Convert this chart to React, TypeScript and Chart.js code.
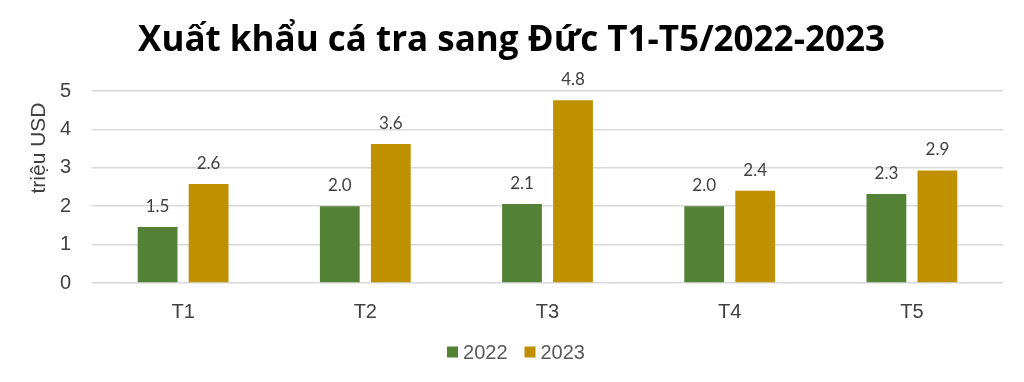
import React, { useEffect, useRef } from "react";
import { Chart, registerables } from "chart.js";

Chart.register(...registerables);

const categories = ["T1", "T2", "T3", "T4", "T5"];
const values2022 = [1.46, 2.0, 2.06, 2.0, 2.32];
const values2023 = [2.58, 3.62, 4.76, 2.4, 2.93];
const seriesNames = ["2022", "2023"];
const yTicks = [0, 1, 2, 3, 4, 5];
const chartTitle = "Xuất khẩu cá tra sang Đức T1-T5/2022-2023";
const yAxisTitle = "triệu USD";

const GREEN = "#538135";
const GOLD = "#BF9000";

const labelPlugin = {
  id: "valueLabels",
  afterDatasetsDraw(chart: any) {
    const ctx = chart.ctx;
    ctx.save();
    ctx.font = "17px Lato";
    ctx.fillStyle = "#404040";
    ctx.textAlign = "center";
    ctx.textBaseline = "alphabetic";
    chart.data.datasets.forEach((ds: any, i: number) => {
      const meta = chart.getDatasetMeta(i);
      meta.data.forEach((bar: any, j: number) => {
        const v = ds.data[j] as number;
        ctx.fillText(v.toFixed(1), bar.x, bar.y - 15);
      });
    });
    ctx.restore();
  },
  afterDraw(chart: any) {
    const ctx = chart.ctx;
    ctx.save();
    // y-axis title
    ctx.translate(39, 148);
    ctx.rotate(-Math.PI / 2);
    ctx.font = "21px 'Liberation Sans'";
    ctx.fillStyle = "#404040";
    ctx.textAlign = "center";
    ctx.textBaseline = "middle";
    ctx.fillText(yAxisTitle, 0, 0);
    ctx.restore();

    // legend
    ctx.save();
    ctx.font = "20px 'Liberation Sans'";
    ctx.textBaseline = "middle";
    ctx.textAlign = "left";
    const box = 11;
    const gapBoxText = 5;
    const gapItems = 17;
    const items = chart.data.datasets.map((ds: any) => ({
      label: ds.label as string,
      color: ds.backgroundColor as string,
      w: box + gapBoxText + ctx.measureText(ds.label).width,
    }));
    const total = items.reduce((s: number, it: any) => s + it.w, 0) + gapItems * (items.length - 1);
    let x = 516 - total / 2;
    const cy = 352;
    items.forEach((it: any) => {
      ctx.fillStyle = it.color;
      ctx.fillRect(x, cy - box / 2, box, box);
      ctx.fillStyle = "#595959";
      ctx.fillText(it.label, x + box + gapBoxText, cy + 1);
      x += it.w + gapItems;
    });
    ctx.restore();
  },
};

export default function App() {
  const ref = useRef<HTMLCanvasElement>(null);
  useEffect(() => {
    document.body.style.margin = "0";
    const chart = new Chart(ref.current!, {
      type: "bar",
      data: {
        labels: categories,
        datasets: [
          { label: seriesNames[0], data: values2022, backgroundColor: GREEN, categoryPercentage: 0.56, barPercentage: 0.78 },
          { label: seriesNames[1], data: values2023, backgroundColor: GOLD, categoryPercentage: 0.56, barPercentage: 0.78 },
        ],
      },
      options: {
        responsive: false,
        animation: false,
        layout: { padding: { left: 20, right: 21, top: 0, bottom: 49 } },
        plugins: {
          title: {
            display: true,
            text: chartTitle,
            color: "#000000",
            font: { family: "'Open Sans'", size: 35, weight: "bold" },
            padding: { top: 20, bottom: 29 },
          },
          legend: { display: false },
          tooltip: { enabled: false },
        },
        scales: {
          x: {
            grid: { display: false },
            border: { display: false },
            ticks: { color: "#404040", font: { family: "'Liberation Sans'", size: 20 }, padding: 9 },
          },
          y: {
            min: 0,
            max: 5,
            afterBuildTicks: (axis: any) => {
              axis.ticks = yTicks.map((v) => ({ value: v }));
            },
            afterFit: (axis: any) => {
              axis.width = 72;
            },
            grid: { color: "#d9d9d9", lineWidth: 1.5, drawTicks: false },
            border: { display: false },
            ticks: { color: "#404040", font: { family: "'Liberation Sans'", size: 20 }, padding: 21 },
          },
        },
      },
      plugins: [labelPlugin],
    });
    return () => chart.destroy();
  }, []);
  return (
    <div style={{ position: "relative", width: 1024, height: 382, background: "#fff" }}>
      <canvas ref={ref} width={1024} height={382} />
    </div>
  );
}
